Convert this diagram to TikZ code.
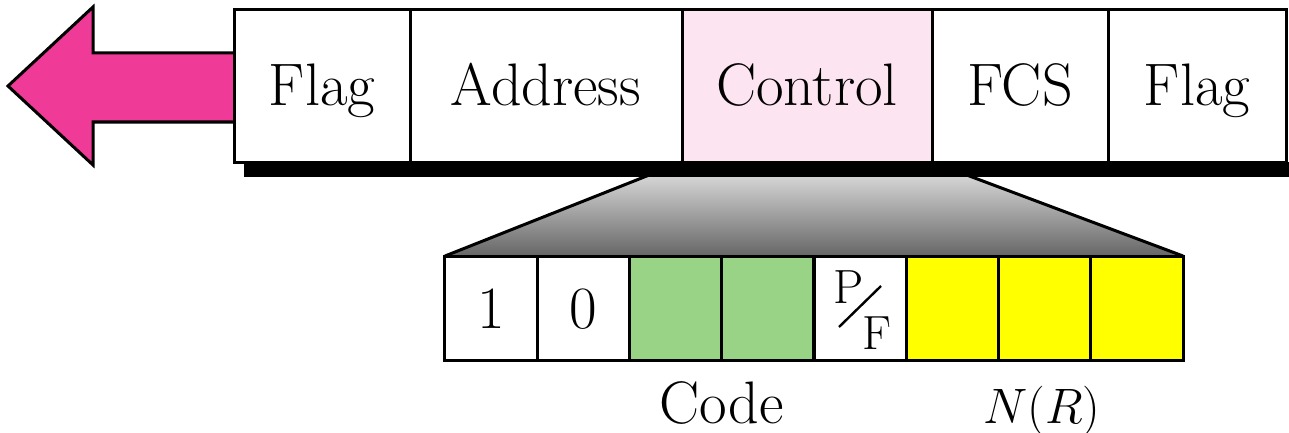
\documentclass[tikz,border=0pt]{standalone}
\usetikzlibrary{calc}
\definecolor{arrowpink}{RGB}{240,58,151}
\definecolor{ctrlpink}{RGB}{252,228,240}
\definecolor{codegreen}{RGB}{153,211,133}
\definecolor{nryellow}{RGB}{255,255,0}
\tikzset{
  frameline/.style={draw=black, line width=1.5pt},
  cell/.style={frameline, rectangle, inner sep=0pt, outer sep=0pt,
    minimum height=76pt, text height=24pt, text depth=5pt,
    font=\fontsize{30}{36}\selectfont},
  bit/.style={frameline, rectangle, inner sep=0pt, outer sep=0pt,
    minimum width=46.125pt, minimum height=52pt, text height=24pt, text depth=4pt,
    font=\fontsize{30}{36}\selectfont},
  caption/.style={inner sep=0pt, anchor=base, font=\fontsize{30}{36}\selectfont},
  small/.style={inner sep=0pt, font=\fontsize{24}{28}\selectfont},
}
\begin{document}
\begin{tikzpicture}[x=0.5pt, y=-0.5pt]
\useasboundingbox (0,0) rectangle (1289,433);

% outgoing direction arrow
\draw[frameline, fill=arrowpink, line join=miter]
  (234,53) -- (93,53) -- (93,7) -- (8,86) -- (93,165) -- (93,122) -- (234,122);

% zoom wedge from the control field down to its bits
\shade[top color=black!9, bottom color=black!60]
  (682,162) -- (932,162) -- (1183,256) -- (445,256) -- cycle;
\draw[frameline] (932,162) -- (1183,256);
\draw[frameline] (682,162) -- (445,256);

% drop shadow below the frame
\fill[black] (244,162) rectangle (1289,177);

% frame fields
\node[cell, minimum width=88pt]  (flagL) at (322,86) {Flag};
\node[cell, minimum width=136pt] (addr)  at (546,86) {Address};
\node[cell, minimum width=125pt, fill=ctrlpink] (ctrl) at (807,86) {Control};
\node[cell, minimum width=88pt]  (fcs)   at (1020,86) {FCS};
\node[cell, minimum width=89pt]  (flagR) at (1197,86) {Flag};

% control field bits
\node[bit] (b1) at (491.1,308) {1};
\node[bit] (b2) at (583.4,308) {0};
\node[bit, fill=codegreen] (b3) at (675.6,308) {};
\node[bit, fill=codegreen] (b4) at (767.9,308) {};
\node[bit] (b5) at (860.1,308) {};
\node[bit, fill=nryellow] (b6) at (952.4,308) {};
\node[bit, fill=nryellow] (b7) at (1044.6,308) {};
\node[bit, fill=nryellow] (b8) at (1136.9,308) {};

% poll/final bit label
\node[small] (pp) at (849,287) {P};
\node[small] (ff) at (877,333) {F};
\coordinate (slA) at (839,327);
\coordinate (slB) at (881,286);
\draw[line width=1.2pt] (slA) -- (slB);

% field captions
\node[caption] (code) at (721.75,423) {Code};
\node[caption] (nr) at (1042,423) {$N(R)$};
\end{tikzpicture}
\end{document}
